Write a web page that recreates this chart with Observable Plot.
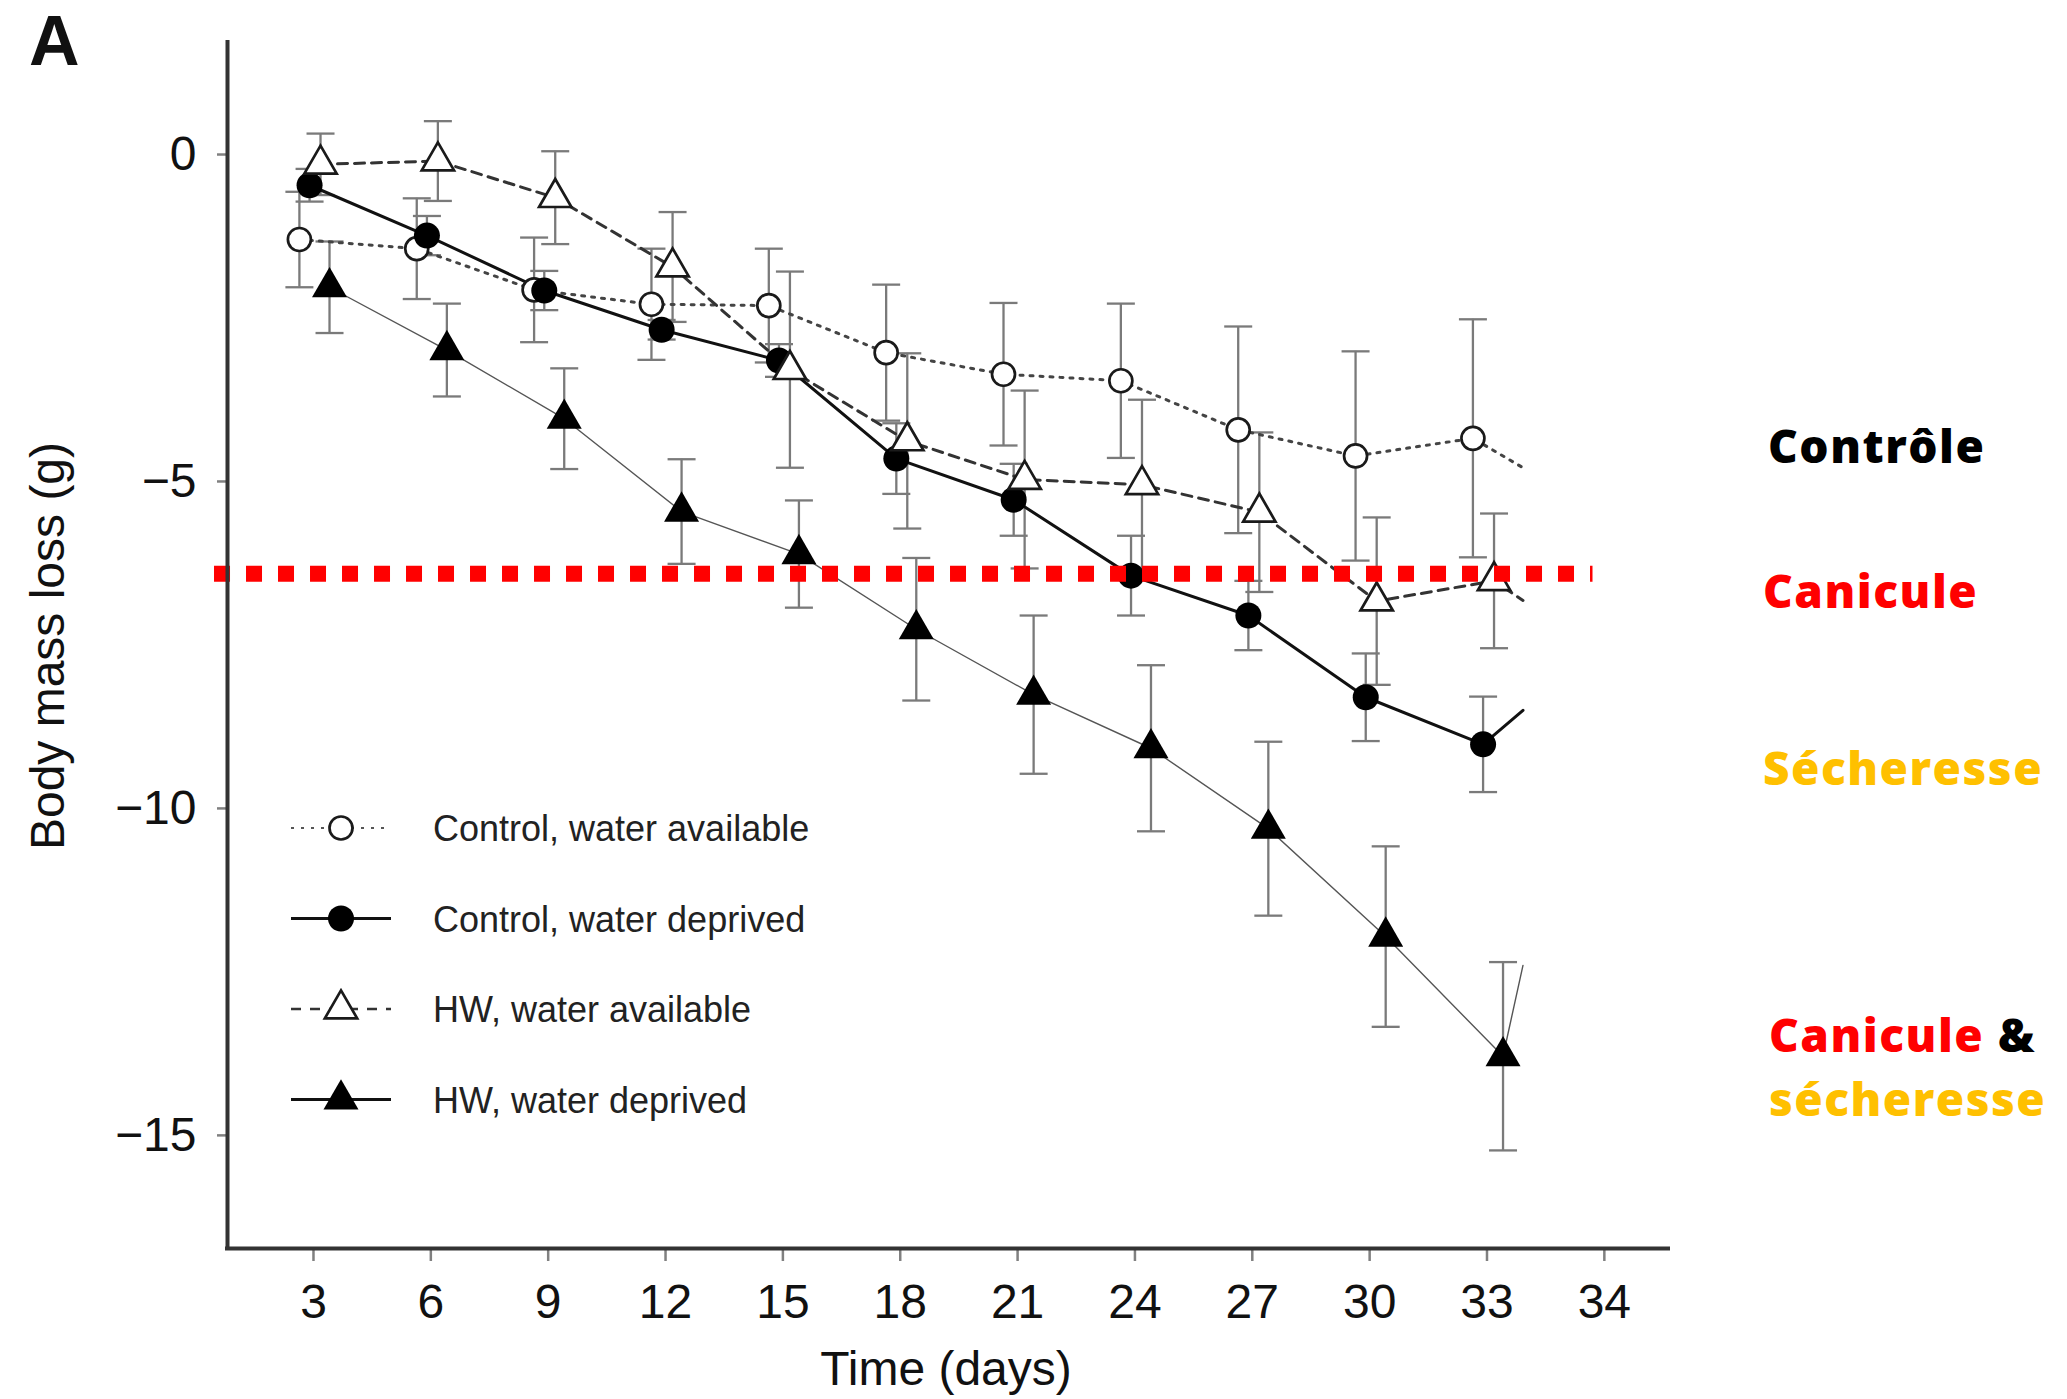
<!DOCTYPE html>
<html><head><meta charset="utf-8">
<script src="https://cdn.jsdelivr.net/npm/d3@7"></script>
<script src="https://cdn.jsdelivr.net/npm/@observablehq/plot@0.6"></script>
<style>
html,body{margin:0;padding:0;background:#fff;}
#chart{position:relative;width:2067px;height:1399px;}
</style></head><body><div id="chart"></div>
<script>
// ---------------- data ----------------
const days = [3, 6, 9, 12, 15, 18, 21, 24, 27, 30, 33];
const tickLabels = ["3", "6", "9", "12", "15", "18", "21", "24", "27", "30", "33", "34"];
const yTicks = [0, -5, -10, -15];
const seriesNames = ["Control, water available", "Control, water deprived", "HW, water available", "HW, water deprived"];

const ctrlAvail    = [-1.30, -1.44, -2.07, -2.29, -2.31, -3.03, -3.36, -3.46, -4.21, -4.61, -4.34];
const ctrlAvailErr = [0.73, 0.77, 0.80, 0.85, 0.87, 1.04, 1.09, 1.18, 1.58, 1.60, 1.82];
const ctrlDepr     = [-0.47, -1.24, -2.08, -2.68, -3.15, -4.65, -5.28, -6.44, -7.05, -8.30, -9.02];
const ctrlDeprErr  = [0.25, 0.30, 0.30, 0.15, 0.25, 0.54, 0.55, 0.61, 0.53, 0.67, 0.73];
const hwAvail      = [-0.15, -0.10, -0.66, -1.72, -3.29, -4.38, -4.97, -5.05, -5.47, -6.83, -6.52];
const hwAvailErr   = [0.47, 0.61, 0.71, 0.84, 1.50, 1.34, 1.36, 1.30, 1.22, 1.28, 1.03];
const hwDepr       = [-2.03, -2.99, -4.04, -5.46, -6.11, -7.26, -8.26, -9.08, -10.31, -11.96, -13.79];
const hwDeprErr    = [0.70, 0.71, 0.77, 0.80, 0.82, 1.09, 1.21, 1.27, 1.33, 1.38, 1.44];

// visible end of each line's next (cropped) segment
const tailDay = 33.92;
const tailValues = [-4.79, -8.50, -6.82, -12.40];

// red dotted "canicule" threshold
const caniculeLevel = -6.41;
const caniculeSpan = [0.47, 35.71];

// ---------------- styles ----------------
const styles = [
  {dx: -0.36, symbol: "circle",   r: 11.5, fill: "white", stroke: "#1a1a1a", sw: 2.7, line: "#444", lw: 3,   dash: "3,7"},
  {dx: -0.10, symbol: "circle",   r: 13,   fill: "#000",  stroke: "none",    sw: 0,   line: "#111", lw: 3,   dash: null},
  {dx:  0.18, symbol: "triangle", r: 12,   fill: "white", stroke: "#1a1a1a", sw: 2.7, line: "#333", lw: 3,   dash: "10,7"},
  {dx:  0.41, symbol: "triangle", r: 13,   fill: "#000",  stroke: "none",    sw: 0,   line: "#555", lw: 1.4, dash: null}
];
const W = 2067, H = 1399;
const xDomain = [0.802, 37.64];
const yDomain = [-16.73, 1.713];
const tickPos = tickLabels.map((_, i) => 3 + 3 * i);

const values = [ctrlAvail, ctrlDepr, hwAvail, hwDepr];
const errors = [ctrlAvailErr, ctrlDeprErr, hwAvailErr, hwDeprErr];

const points = [];
values.forEach((vals, s) => vals.forEach((v, i) => {
  const e = errors[s][i];
  points.push({s, x: days[i] + styles[s].dx, y: v, lo: v - e, hi: v + e});
}));
const caps = points.flatMap(d => [{x: d.x, y: d.lo}, {x: d.x, y: d.hi}]);
const capSymbol = {draw(ctx) { ctx.moveTo(-14, 0); ctx.lineTo(14, 0); }};

const lineMarks = styles.map((st, s) => {
  const data = points.filter(d => d.s === s).map(d => ({x: d.x, y: d.y}));
  data.push({x: tailDay, y: tailValues[s]});
  return Plot.line(data, {x: "x", y: "y", stroke: st.line, strokeWidth: st.lw,
    strokeDasharray: st.dash, strokeLinejoin: "round", curve: "linear"});
});
const dotMarks = styles.map((st, s) =>
  Plot.dot(points.filter(d => d.s === s), {x: "x", y: "y", symbol: st.symbol, r: st.r,
    fill: st.fill, stroke: st.stroke, strokeWidth: st.sw}));

const plot = Plot.plot({
  width: W, height: H,
  marginLeft: 227, marginRight: 399, marginTop: 42, marginBottom: 151,
  x: {type: "linear", domain: xDomain},
  y: {type: "linear", domain: yDomain},
  style: {fontFamily: "'Liberation Sans', Arial, sans-serif", fontSize: "48px", color: "#111", background: "white", overflow: "visible"},
  marks: [
    Plot.axisX({ticks: tickPos, tickFormat: d => tickLabels[Math.round((d - 3) / 3)], tickSize: 13, tickPadding: 22,
      stroke: "#808080", strokeWidth: 2.5, fill: "#111", fontSize: 48, label: null}),
    Plot.axisY({ticks: yTicks, tickFormat: d => d === 0 ? "0" : "\u2212" + Math.abs(d), tickSize: 10, tickPadding: 21,
      stroke: "#808080", strokeWidth: 2.5, fill: "#111", fontSize: 48, label: null}),
    Plot.ruleX(points, {x: "x", y1: "lo", y2: "hi", stroke: "#7a7a7a", strokeWidth: 2.3}),
    Plot.dot(caps, {x: "x", y: "y", symbol: capSymbol, r: 8, stroke: "#7a7a7a", strokeWidth: 2.3, fill: "none"}),
    ...lineMarks,
    ...dotMarks,
    Plot.ruleY([{y: caniculeLevel, x1: caniculeSpan[0], x2: caniculeSpan[1]}],
      {y: "y", x1: "x1", x2: "x2", stroke: "#ff0000", strokeWidth: 16, strokeDasharray: "16,16"}),
    Plot.ruleX([xDomain[0]], {stroke: "#333", strokeWidth: 4, strokeLinecap: "square"}),
    Plot.ruleY([yDomain[0]], {stroke: "#333", strokeWidth: 4, strokeLinecap: "square"})
  ]
});
document.getElementById("chart").appendChild(plot);

// ---------------- annotations: titles, legend, side labels ----------------
const svg = d3.select(plot);
const FONT = "'Liberation Sans', Arial, sans-serif";

svg.append("text").attr("x", 29).attr("y", 65).attr("text-anchor", "start").attr("font-family", FONT)
  .attr("font-weight", "bold").attr("font-size", 70).attr("fill", "#111").text("A");
svg.append("text").attr("transform", "translate(64,646) rotate(-90)").attr("text-anchor", "middle")
  .attr("font-family", FONT).attr("font-size", 48).attr("fill", "#111").text("Body mass loss (g)");
svg.append("text").attr("x", 946).attr("y", 1385).attr("text-anchor", "middle")
  .attr("font-family", FONT).attr("font-size", 48).attr("fill", "#111").text("Time (days)");

// legend
const legendTop = 828, legendStep = 90.5;
const legendLine = [
  {stroke: "#555", w: 2, dash: "3,7"},
  {stroke: "#111", w: 2.8, dash: null},
  {stroke: "#333", w: 2.5, dash: "10,9"},
  {stroke: "#111", w: 2.8, dash: null}
];
seriesNames.forEach((name, s) => {
  const y = legendTop + s * legendStep;
  const g = svg.append("g");
  g.append("line").attr("x1", 291).attr("x2", 391).attr("y1", y).attr("y2", y)
    .attr("stroke", legendLine[s].stroke).attr("stroke-width", legendLine[s].w)
    .attr("stroke-dasharray", legendLine[s].dash);
  const st = styles[s];
  const sym = st.symbol === "circle" ? d3.symbolCircle : d3.symbolTriangle;
  g.append("path").attr("transform", `translate(341,${y})`)
    .attr("d", d3.symbol(sym, Math.PI * st.r * st.r)())
    .attr("fill", st.fill).attr("stroke", st.stroke).attr("stroke-width", st.sw);
  g.append("text").attr("x", 433).attr("y", y + 13).attr("text-anchor", "start")
    .attr("font-family", FONT).attr("font-size", 36).attr("fill", "#222").text(name);
});

// side labels
const SIDE = "'Open Sans', 'Noto Sans', sans-serif";
const sideText = (x, y) => svg.append("text").attr("x", x).attr("y", y).attr("text-anchor", "start")
  .attr("font-family", SIDE).attr("font-weight", 800).attr("font-size", 46).attr("letter-spacing", 1.5);
sideText(1768, 463).attr("fill", "#000").text("Contrôle");
sideText(1763, 608).attr("fill", "#ff0000").text("Canicule");
sideText(1763, 785).attr("fill", "#ffc000").text("Sécheresse");
const both = sideText(1769, 1052);
both.append("tspan").attr("fill", "#ff0000").text("Canicule");
both.append("tspan").attr("fill", "#000").text(" &");
sideText(1769, 1116).attr("fill", "#ffc000").text("sécheresse");
</script></body></html>
